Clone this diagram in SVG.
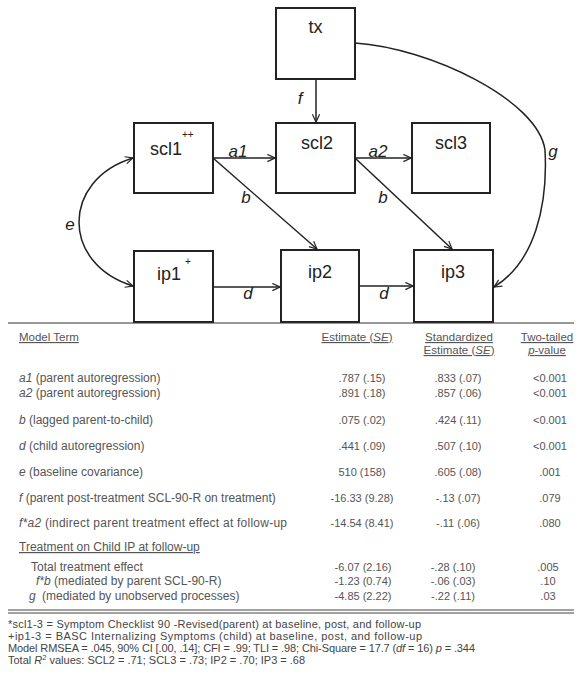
<svg xmlns="http://www.w3.org/2000/svg" width="580" height="681" viewBox="0 0 580 681">
<defs>
<marker id="ah" viewBox="0 0 10 10" refX="9.5" refY="5" markerWidth="9" markerHeight="9" markerUnits="userSpaceOnUse" orient="auto-start-reverse">
<path d="M1,1 L9.5,5 L1,9" fill="none" stroke="#222" stroke-width="1.3"/>
</marker>
<style>
.box{fill:#fff;stroke:#222;stroke-width:2}
.nt{font-family:"Liberation Sans",Arial,sans-serif;font-size:18px;fill:#222}
.sup{font-family:"Liberation Sans",Arial,sans-serif;font-size:10px;fill:#222}
.lab{font-family:"Liberation Sans",Arial,sans-serif;font-size:17px;font-style:italic;fill:#222}
.con{fill:none;stroke:#222;stroke-width:1.5}
.t{font-family:"Liberation Sans",Arial,sans-serif;font-size:12px;fill:#555}
.h{font-size:11.5px}
.n{font-size:11px}
.i{font-style:italic}
.c{text-anchor:middle}
.fn{font-family:"Liberation Sans",Arial,sans-serif;font-size:11px;fill:#444}
.rule{stroke:#333;stroke-width:1.2}
</style>
</defs>
<rect width="580" height="681" fill="#fff"/>

<g id="connectors">
<path class="con" d="M316,79 L316,122" marker-end="url(#ah)"/>
<path class="con" d="M213,158 L275,158" marker-end="url(#ah)"/>
<path class="con" d="M355,158 L411,158" marker-end="url(#ah)"/>
<path class="con" d="M213,158 L317,249" marker-end="url(#ah)"/>
<path class="con" d="M355,158 L452,249" marker-end="url(#ah)"/>
<path class="con" d="M213,287 L280,287" marker-end="url(#ah)"/>
<path class="con" d="M359,286 L413,286" marker-end="url(#ah)"/>
<path class="con" d="M133,158 C61,180 61,264 133,286" marker-start="url(#ah)" marker-end="url(#ah)"/>
<path class="con" d="M355,43 C430,48 538,100 545,150 C548,205 535,262 494,287" marker-end="url(#ah)"/>
<text class="lab" x="300" y="104" text-anchor="middle">f</text>
<text class="lab" x="238" y="157" text-anchor="middle">a1</text>
<text class="lab" x="378" y="157" text-anchor="middle">a2</text>
<text class="lab" x="246" y="203" text-anchor="middle">b</text>
<text class="lab" x="383" y="203" text-anchor="middle">b</text>
<text class="lab" x="248" y="299" text-anchor="middle">d</text>
<text class="lab" x="384" y="299" text-anchor="middle">d</text>
<text class="lab" x="70" y="230" text-anchor="middle">e</text>
<text class="lab" x="553" y="157" text-anchor="middle">g</text>
</g>

<g id="tx">
<rect class="box" x="276" y="8" width="79" height="71"/>
<text class="nt" x="315.5" y="33" text-anchor="middle">tx</text>
</g>
<g id="scl1">
<rect class="box" x="134" y="123" width="79" height="70"/>
<text class="nt" x="150" y="155">scl1</text>
<text class="sup" x="182" y="138">++</text>
</g>
<g id="scl2">
<rect class="box" x="276" y="123" width="79" height="70"/>
<text class="nt" x="317" y="149" text-anchor="middle">scl2</text>
</g>
<g id="scl3">
<rect class="box" x="412" y="123" width="78" height="70"/>
<text class="nt" x="451" y="149" text-anchor="middle">scl3</text>
</g>
<g id="ip1">
<rect class="box" x="134" y="251" width="79" height="71"/>
<text class="nt" x="157" y="280">ip1</text>
<text class="sup" x="185" y="265">+</text>
</g>
<g id="ip2">
<rect class="box" x="281" y="250" width="78" height="72"/>
<text class="nt" x="320" y="278" text-anchor="middle">ip2</text>
</g>
<g id="ip3">
<rect class="box" x="414" y="250" width="79" height="72"/>
<text class="nt" x="453" y="278" text-anchor="middle">ip3</text>
</g>

<g id="table">
<line class="rule" x1="8" y1="323" x2="574" y2="323"/>
<text class="t h" x="19" y="341" text-decoration="underline">Model Term</text>
<text class="t h c" x="357" y="341" text-decoration="underline">Estimate (<tspan class="i">SE</tspan>)</text>
<text class="t h c" x="459" y="341" text-decoration="underline">Standardized</text>
<text class="t h c" x="459" y="354" text-decoration="underline">Estimate (<tspan class="i">SE</tspan>)</text>
<text class="t h c" x="547" y="341" text-decoration="underline">Two-tailed</text>
<text class="t h c" x="547" y="354" text-decoration="underline"><tspan class="i">p</tspan>-value</text>

<text class="t" x="19" y="382"><tspan class="i">a1</tspan> (parent autoregression)</text>
<text class="t n c" x="362" y="382">.787 (.15)</text>
<text class="t n c" x="458" y="382">.833 (.07)</text>
<text class="t n c" x="550" y="382">&lt;0.001</text>

<text class="t" x="19" y="397"><tspan class="i">a2</tspan> (parent autoregression)</text>
<text class="t n c" x="362" y="397">.891 (.18)</text>
<text class="t n c" x="458" y="397">.857 (.06)</text>
<text class="t n c" x="550" y="397">&lt;0.001</text>

<text class="t" x="19" y="424"><tspan class="i">b</tspan> (lagged parent-to-child)</text>
<text class="t n c" x="362" y="424">.075 (.02)</text>
<text class="t n c" x="458" y="424">.424 (.11)</text>
<text class="t n c" x="550" y="424">&lt;0.001</text>

<text class="t" x="19" y="450"><tspan class="i">d</tspan> (child autoregression)</text>
<text class="t n c" x="362" y="450">.441 (.09)</text>
<text class="t n c" x="458" y="450">.507 (.10)</text>
<text class="t n c" x="550" y="450">&lt;0.001</text>

<text class="t" x="19" y="476"><tspan class="i">e</tspan> (baseline covariance)</text>
<text class="t n c" x="362" y="476">510 (158)</text>
<text class="t n c" x="458" y="476">.605 (.08)</text>
<text class="t n c" x="550" y="476">.001</text>

<text class="t" x="19" y="502"><tspan class="i">f</tspan> (parent post-treatment SCL-90-R  on treatment)</text>
<text class="t n c" x="362" y="502">-16.33 (9.28)</text>
<text class="t n c" x="458" y="502">-.13 (.07)</text>
<text class="t n c" x="550" y="502">.079</text>

<text class="t" x="19" y="527" textLength="268" lengthAdjust="spacing"><tspan class="i">f*a2</tspan> (indirect parent treatment effect at follow-up</text>
<text class="t n c" x="362" y="527">-14.54 (8.41)</text>
<text class="t n c" x="458" y="527">-.11 (.06)</text>
<text class="t n c" x="550" y="527">.080</text>

<text class="t" x="19" y="551" text-decoration="underline">Treatment on Child IP at follow-up</text>

<text class="t" x="31" y="571">Total treatment effect</text>
<text class="t n c" x="363" y="571">-6.07 (2.16)</text>
<text class="t n c" x="453" y="571">-.28 (.10)</text>
<text class="t n c" x="548" y="571">.005</text>

<text class="t" x="36" y="585"><tspan class="i">f*b</tspan> (mediated by parent SCL-90-R)</text>
<text class="t n c" x="363" y="585">-1.23 (0.74)</text>
<text class="t n c" x="453" y="585">-.06 (.03)</text>
<text class="t n c" x="548" y="585">.10</text>

<text class="t" x="29" y="600"><tspan class="i">g</tspan><tspan x="42">(mediated by unobserved processes)</tspan></text>
<text class="t n c" x="363" y="600">-4.85 (2.22)</text>
<text class="t n c" x="453" y="600">-.22 (.11)</text>
<text class="t n c" x="548" y="600">.03</text>

<line x1="8" y1="610" x2="574" y2="610" stroke="#444" stroke-width="1"/>
<line x1="8" y1="613" x2="574" y2="613" stroke="#444" stroke-width="1"/>

<text class="fn" x="8" y="628" textLength="413" lengthAdjust="spacing">*scl1-3 = Symptom Checklist 90 -Revised(parent) at baseline, post, and follow-up</text>
<text class="fn" x="8" y="640" textLength="414" lengthAdjust="spacing">+ip1-3 = BASC Internalizing Symptoms (child) at baseline, post, and follow-up</text>
<text class="fn" x="8" y="652" textLength="467" lengthAdjust="spacing">Model RMSEA = .045, 90% CI [.00, .14]; CFI = .99; TLI = .98; Chi-Square = 17.7 (<tspan class="i">df</tspan> = 16) <tspan class="i">p</tspan> = .344</text>
<text class="fn" x="8" y="664">Total <tspan class="i">R</tspan><tspan font-size="7.5" dy="-4">2</tspan><tspan dy="4"> values: SCL2 = .71; SCL3 = .73; IP2 = .70; IP3 = .68</tspan></text>
</g>
</svg>
